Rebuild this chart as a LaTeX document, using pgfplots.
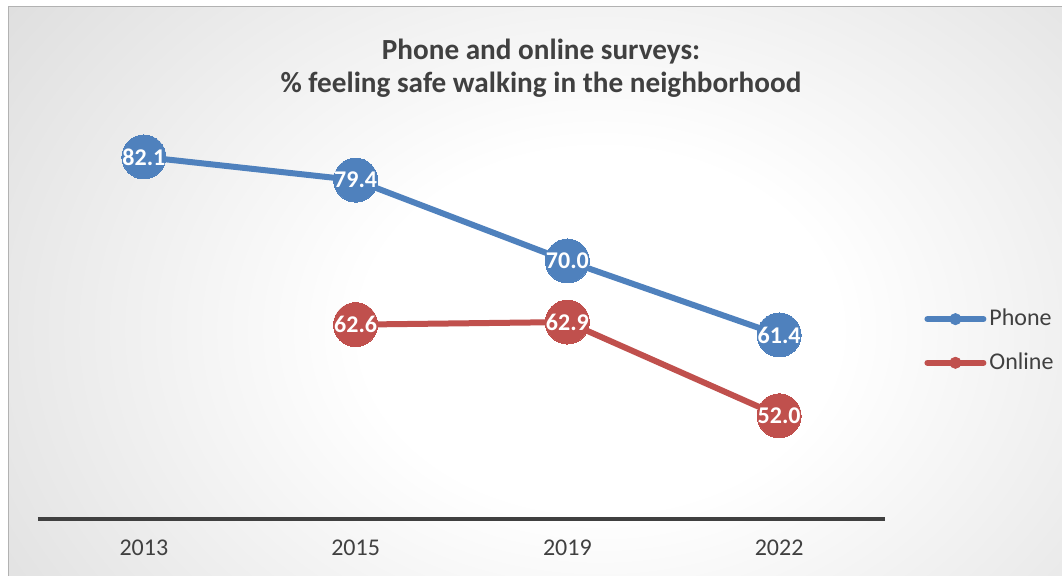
\documentclass[border=0pt]{standalone}
\usepackage{pgfplots}
\pgfplotsset{compat=1.18}
\usepackage{fontspec}
\setmainfont{Carlito}
\definecolor{cblue}{HTML}{4F81BD}
\definecolor{cred}{HTML}{C0504D}
\definecolor{ctext}{HTML}{404040}
\pgfdeclareradialshading{bgshade}{\pgfpoint{0bp}{0bp}}{color(0bp)=(white); color(9bp)=(white); color(46bp)=(black!25); color(80bp)=(black!25)}
\begin{document}
\begin{tikzpicture}
\useasboundingbox (0,0) rectangle (531pt,288pt);
\fill[white] (0,0) rectangle (531pt,288pt);
\begin{scope}
\clip (4pt,0pt) rectangle (531pt,284.5pt);
\shade[shading=bgshade] (-30pt,-127pt) rectangle (630pt,373pt);
\end{scope}
\draw[black!30, line width=0.5pt] (4pt,-1pt) -- (4pt,284.5pt) -- (532pt,284.5pt);
\node[font=\bfseries\fontsize{14.6}{16.5}\selectfont, text=ctext, align=center] at (270.5pt,254pt) {Phone and online surveys:\\\% feeling safe walking in the neighborhood};
\begin{axis}[
  at={(19pt,28.5pt)}, anchor=south west,
  scale only axis, width=423.5pt, height=215pt,
  xmin=-0.5, xmax=3.5, ymin=40, ymax=90,
  axis x line*=bottom, axis y line=none,
  x axis line style={line width=2pt, draw=black!75, -},
  xtick={0,1,2,3}, xticklabels={2013,2015,2019,2022},
  ytick=\empty,
  xtick style={draw=none},
  xticklabel style={font=\fontsize{12}{14}\selectfont, text=ctext, yshift=-7pt},
  clip=false,
  /pgf/number format/assume math mode=true,
  legend style={at={(1.039,0.414)}, anchor=west, draw=none, fill=none,
    font=\fontsize{12}{14}\selectfont, text=ctext, row sep=8pt,
    nodes={inner xsep=1.5pt}},
  legend cell align=left,
  nodes near coords={\pgfmathprintnumber[fixed,fixed zerofill,precision=1,assume math mode=true]{\pgfplotspointmeta}},
  every node near coord/.append style={anchor=center, text=white, font=\bfseries\fontsize{12}{14}\selectfont},
]
\addplot[cblue, line width=3pt, mark=*, mark size=11pt, mark options={solid, fill=cblue, draw=cblue, line width=0pt}, forget plot]
  coordinates {(0,82.1) (1,79.4) (2,70.0) (3,61.4)};
\addplot[cred, line width=3pt, mark=*, mark size=11pt, mark options={solid, fill=cred, draw=cred, line width=0pt}, forget plot]
  coordinates {(1,62.6) (2,62.9) (3,52.0)};
\addlegendimage{legend image code/.code={\draw[cblue,line width=3pt,line cap=round] (0pt,0pt)--(28pt,0pt); \fill[cblue] (14pt,0pt) circle (2.8pt);}}
\addlegendentry{Phone}
\addlegendimage{legend image code/.code={\draw[cred,line width=3pt,line cap=round] (0pt,0pt)--(28pt,0pt); \fill[cred] (14pt,0pt) circle (2.8pt);}}
\addlegendentry{Online}
\end{axis}
\end{tikzpicture}
\end{document}
